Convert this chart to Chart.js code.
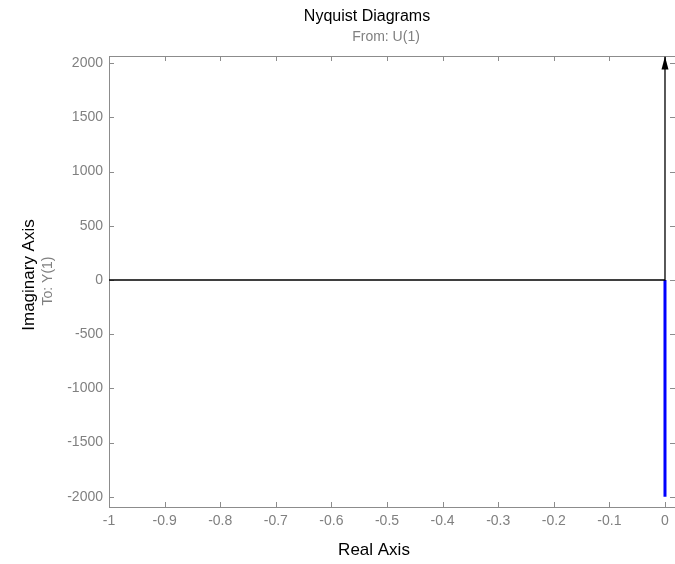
<!DOCTYPE html>
<html>
<head>
<meta charset="utf-8">
<script src="https://cdn.jsdelivr.net/npm/chart.js@4"></script>
<style>
  body { margin: 0; background: #fff; }
  #wrap { width: 675px; height: 564px; }
</style>
</head>
<body>
<div id="wrap"><canvas id="nyquistChart" width="675" height="564"></canvas></div>
<script>
// Nyquist curve: black branch (w > 0) and blue branch (w < 0)
const upperRe = [-1, 0, 0];
const upperIm = [0, 0, 2060];
const lowerRe = [0, 0];
const lowerIm = [0, -2000];
// arrow marking the direction of the curve
const arrowRe = [0];
const arrowIm = [2062];

const xTicks = [-1, -0.9, -0.8, -0.7, -0.6, -0.5, -0.4, -0.3, -0.2, -0.1, 0];
const yTicks = [-2000, -1500, -1000, -500, 0, 500, 1000, 1500, 2000];
const xRange = [-1, 0.018];
const yRange = [-2095, 2067];

const FONT = '"Liberation Sans", Arial, sans-serif';
const AXIS_GREY = '#8c8c8c';
const TEXT_GREY = '#808080';

function toPoints(xs, ys) {
  return xs.map((x, i) => ({ x: x, y: ys[i] }));
}

// box round the axes with inward ticks, arrow head, titles
const frame = {
  id: 'frame',
  beforeDatasetsDraw(chart) {
    const { ctx, chartArea: a, scales } = chart;
    ctx.save();
    ctx.strokeStyle = AXIS_GREY;
    ctx.lineWidth = 1;
    ctx.strokeRect(Math.round(a.left) + 0.5, Math.round(a.top) + 0.5,
      Math.round(a.right - a.left), Math.round(a.bottom - a.top));
    ctx.beginPath();
    xTicks.forEach(v => {
      const px = Math.round(scales.x.getPixelForValue(v)) + 0.5;
      ctx.moveTo(px, a.top); ctx.lineTo(px, a.top + 5);
      ctx.moveTo(px, a.bottom); ctx.lineTo(px, a.bottom - 5);
    });
    yTicks.forEach(v => {
      const py = Math.round(scales.y.getPixelForValue(v)) + 0.5;
      ctx.moveTo(a.left, py); ctx.lineTo(a.left + 5, py);
      ctx.moveTo(a.right, py); ctx.lineTo(a.right - 5, py);
    });
    ctx.stroke();
    ctx.restore();
  },
  afterDatasetsDraw(chart) {
    const { ctx, scales } = chart;
    ctx.save();
    ctx.fillStyle = '#000';
    arrowRe.forEach((re, i) => {
      const px = scales.x.getPixelForValue(re);
      const py = scales.y.getPixelForValue(arrowIm[i]);
      ctx.beginPath();
      ctx.moveTo(px, py);
      ctx.lineTo(px - 3.5, py + 13);
      ctx.lineTo(px + 3.5, py + 13);
      ctx.closePath();
      ctx.fill();
    });
    ctx.restore();
  },
  afterDraw(chart) {
    const ctx = chart.ctx;
    ctx.save();
    ctx.textAlign = 'center';
    ctx.textBaseline = 'middle';
    ctx.fillStyle = '#000';
    ctx.font = '16px ' + FONT;
    ctx.fillText('Nyquist Diagrams', 367, 17);
    ctx.font = '17px ' + FONT;
    ctx.fillText('Real Axis', 374, 550);
    ctx.fillStyle = TEXT_GREY;
    ctx.font = '14px ' + FONT;
    ctx.fillText('From: U(1)', 386, 37);

    ctx.translate(29, 275);
    ctx.rotate(-Math.PI / 2);
    ctx.fillStyle = '#000';
    ctx.font = '17px ' + FONT;
    ctx.fillText('Imaginary Axis', 0, 0);
    ctx.restore();

    ctx.save();
    ctx.translate(48, 281);
    ctx.rotate(-Math.PI / 2);
    ctx.textAlign = 'center';
    ctx.textBaseline = 'middle';
    ctx.fillStyle = TEXT_GREY;
    ctx.font = '14px ' + FONT;
    ctx.fillText('To: Y(1)', 0, 0);
    ctx.restore();
  }
};

const ctx = document.getElementById('nyquistChart').getContext('2d');
new Chart(ctx, {
  type: 'scatter',
  data: {
    datasets: [
      {
        data: toPoints(upperRe, upperIm),
        showLine: true,
        borderColor: '#000000',
        borderWidth: 1.3,
        pointRadius: 0
      },
      {
        data: toPoints(lowerRe, lowerIm),
        showLine: true,
        borderColor: '#0000ff',
        borderWidth: 3,
        pointRadius: 0
      }
    ]
  },
  options: {
    responsive: false,
    animation: false,
    devicePixelRatio: 1,
    layout: { padding: { top: 56, right: 0, left: 0, bottom: 0 } },
    plugins: {
      legend: { display: false },
      tooltip: { enabled: false }
    },
    scales: {
      x: {
        type: 'linear',
        min: xRange[0],
        max: xRange[1],
        grid: { display: false, drawTicks: false },
        border: { display: false },
        afterBuildTicks: s => { s.ticks = xTicks.map(v => ({ value: v })); },
        afterFit: s => { s.height = 57; },
        ticks: {
          padding: 6,
          color: TEXT_GREY,
          font: { family: FONT, size: 14 },
          callback: v => String(v)
        }
      },
      y: {
        type: 'linear',
        min: yRange[0],
        max: yRange[1],
        grid: { display: false, drawTicks: false },
        border: { display: false },
        afterBuildTicks: s => { s.ticks = yTicks.map(v => ({ value: v })); },
        afterFit: s => { s.width = 109; },
        ticks: {
          padding: 6,
          color: TEXT_GREY,
          font: { family: FONT, size: 14 },
          callback: v => String(v)
        }
      }
    }
  },
  plugins: [frame]
});
</script>
</body>
</html>
